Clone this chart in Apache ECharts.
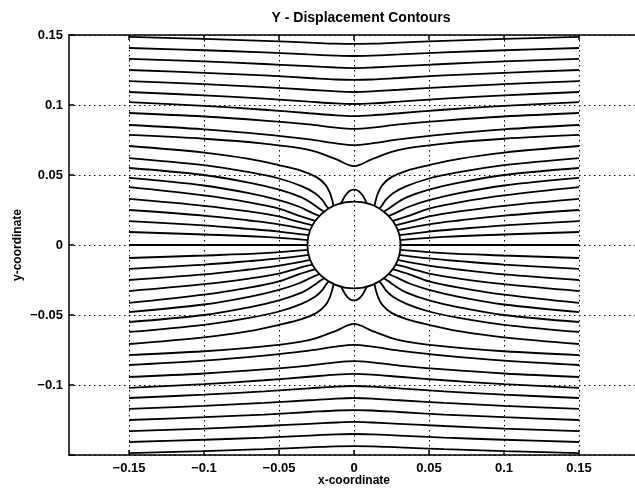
<!DOCTYPE html>
<html>
<head>
<meta charset="utf-8">
<script src="https://cdn.jsdelivr.net/npm/echarts@6/dist/echarts.min.js"></script>
<style>
  html, body { margin: 0; padding: 0; background: #fff; }
  #chart { width: 635px; height: 491px; }
</style>
</head>
<body>
<div id="chart"></div>
<script>
// tick labels
var xTicks = [-0.15, -0.1, -0.05, 0, 0.05, 0.1, 0.15];
var yTicks = [-0.15, -0.1, -0.05, 0, 0.05, 0.1, 0.15];
var yLabels = [-0.1, -0.05, 0, 0.05, 0.1, 0.15];

// radius of the hole
var holeRadius = 0.031;

// contours in the upper-left quadrant.
// full-width lines: y at each of spanX (left half, mirrored for the right)
var spanX = [-0.15, -0.1, -0.06, -0.03, -0.012, 0];
var spanLines = [
  [0.1486, 0.1472, 0.1458, 0.1446, 0.1438, 0.1436],
  [0.1407, 0.1391, 0.1376, 0.1361, 0.1353, 0.1350],
  [0.1329, 0.1311, 0.1293, 0.1277, 0.1268, 0.1264],
  [0.1250, 0.1230, 0.1211, 0.1193, 0.1182, 0.1179],
  [0.1171, 0.1149, 0.1128, 0.1109, 0.1097, 0.1093],
  [0.1093, 0.1069, 0.1046, 0.1024, 0.1011, 0.1007],
  [0.1021, 0.0994, 0.0966, 0.0941, 0.0926, 0.0921],
  [0.0943, 0.0918, 0.0889, 0.0861, 0.0838, 0.0829],
  [0.0857, 0.0826, 0.0790, 0.0754, 0.0726, 0.0714],
  [0.0786, 0.0759, 0.0724, 0.0679, 0.0613, 0.0564]
];

// lines that run from the left edge into the hole
var holeLines = [
  [[-0.15, 0.0707], [-0.1, 0.066], [-0.07, 0.0615], [-0.05, 0.057], [-0.035, 0.053], [-0.025, 0.0485], [-0.019, 0.043], [-0.016, 0.037], [-0.0145, 0.032], [-0.0136, 0.0279]],
  [[-0.15, 0.0621], [-0.1, 0.057], [-0.07, 0.052], [-0.05, 0.0475], [-0.035, 0.042], [-0.026, 0.037], [-0.021, 0.032], [-0.0185, 0.028], [-0.0169, 0.026]],
  [[-0.15, 0.055], [-0.1, 0.05], [-0.07, 0.0445], [-0.05, 0.0395], [-0.035, 0.034], [-0.027, 0.029], [-0.0225, 0.0255], [-0.0199, 0.0237]],
  [[-0.15, 0.0479], [-0.1, 0.0425], [-0.07, 0.037], [-0.05, 0.032], [-0.037, 0.0275], [-0.029, 0.0235], [-0.023, 0.0207]],
  [[-0.15, 0.0414], [-0.1, 0.0355], [-0.07, 0.0305], [-0.05, 0.026], [-0.037, 0.021], [-0.0257, 0.0173]],
  [[-0.15, 0.0329], [-0.1, 0.028], [-0.07, 0.024], [-0.05, 0.0205], [-0.038, 0.0168], [-0.0276, 0.0141]],
  [[-0.15, 0.025], [-0.1, 0.021], [-0.07, 0.0175], [-0.05, 0.0148], [-0.0291, 0.0106]],
  [[-0.15, 0.0171], [-0.1, 0.014], [-0.07, 0.0115], [-0.05, 0.0096], [-0.0302, 0.007]],
  [[-0.15, 0.0093], [-0.1, 0.0075], [-0.06, 0.0058], [-0.0308, 0.0035]],
  [[-0.15, 0], [-0.031, 0]]
];

// small lobe sitting on top of the hole (left half)
var bump = [[-0.0085, 0.0298], [-0.006, 0.035], [-0.003, 0.0385], [0, 0.0395]];

// the picture is symmetric about both axes
function flipX(pts) { return pts.map(function (p) { return [-p[0], p[1]]; }); }
function flipY(pts) { return pts.map(function (p) { return [p[0], -p[1]]; }); }
function bothHalves(left) {
  return left.concat(flipX(left.slice(0, -1)).reverse());
}

var paths = [];
spanLines.forEach(function (ys) {
  var full = bothHalves(spanX.map(function (x, i) { return [x, ys[i]]; }));
  paths.push(full, flipY(full));
});
holeLines.forEach(function (pts) {
  paths.push(pts, flipX(pts));
  if (pts[0][1] !== 0) paths.push(flipY(pts), flipY(flipX(pts)));
});
var bumpFull = bothHalves(bump);
paths.push(bumpFull, flipY(bumpFull));

function fmt(v) {
  if (v === 0) return '0';
  return (v < 0 ? '\u2212' : '') + String(Math.abs(v));
}

var series = paths.map(function (pts) {
  return {
    type: 'line',
    data: pts,
    showSymbol: false,
    smooth: 0.35,
    silent: true,
    z: 3,
    lineStyle: { color: '#000', width: 1.8 }
  };
});

series.push({
  type: 'custom',
  silent: true,
  z: 4,
  data: [[0, 0]],
  renderItem: function (params, api) {
    var c = api.coord([api.value(0), api.value(1)]);
    var s = api.size([holeRadius, holeRadius]);
    return {
      type: 'ellipse',
      shape: { cx: c[0], cy: c[1], rx: s[0], ry: s[1] },
      style: { fill: 'none', stroke: '#000', lineWidth: 1.8 }
    };
  }
});

var textStyle = { color: '#000', fontFamily: 'Liberation Sans', fontWeight: 'bold' };
var dots = { color: '#000', width: 1, type: [1.5, 3.5] };

var chart = echarts.init(document.getElementById('chart'));
chart.setOption({
  backgroundColor: '#fff',
  animation: false,
  title: {
    text: 'Y - Displacement Contours',
    left: 356,
    top: 6,
    textAlign: 'center',
    textStyle: { color: '#000', fontFamily: 'Liberation Sans', fontWeight: 'bold', fontSize: 14 }
  },
  grid: { left: 69, top: 35, width: 570, height: 420, outerBoundsMode: 'none', containLabel: false },
  xAxis: [{
    type: 'value',
    min: -0.19,
    max: 0.19,
    position: 'bottom',
    name: 'x-coordinate',
    nameLocation: 'middle',
    nameGap: 20,
    nameMoveOverlap: false,
    nameTextStyle: Object.assign({ fontSize: 12 }, textStyle),
    axisLine: { show: true, onZero: false, lineStyle: { color: '#000', width: 1.5 } },
    axisTick: { show: true, inside: true, length: 5, customValues: xTicks, lineStyle: { color: '#000', width: 1.5 } },
    axisLabel: Object.assign({ customValues: xTicks, formatter: fmt, fontSize: 13, margin: 7 }, textStyle),
    splitLine: { show: true, lineStyle: dots }
  }, {
    type: 'value',
    min: -0.19,
    max: 0.19,
    position: 'top',
    axisLine: { show: true, onZero: false, lineStyle: { color: '#000', width: 1.5 } },
    axisTick: { show: true, inside: true, length: 5, customValues: xTicks, lineStyle: { color: '#000', width: 1.5 } },
    axisLabel: { show: false },
    splitLine: { show: false }
  }],
  yAxis: {
    type: 'value',
    min: -0.15,
    max: 0.15,
    name: 'y-coordinate',
    nameLocation: 'middle',
    nameRotate: 90,
    nameGap: 45,
    nameMoveOverlap: false,
    nameTextStyle: Object.assign({ fontSize: 12 }, textStyle),
    axisLine: { show: true, onZero: false, lineStyle: { color: '#000', width: 1.5 } },
    axisTick: { show: true, inside: true, length: 5, customValues: yTicks, lineStyle: { color: '#000', width: 1.5 } },
    axisLabel: Object.assign({ customValues: yLabels, formatter: fmt, fontSize: 13, margin: 6 }, textStyle),
    splitLine: { show: true, lineStyle: dots }
  },
  series: series
});
</script>
</body>
</html>
